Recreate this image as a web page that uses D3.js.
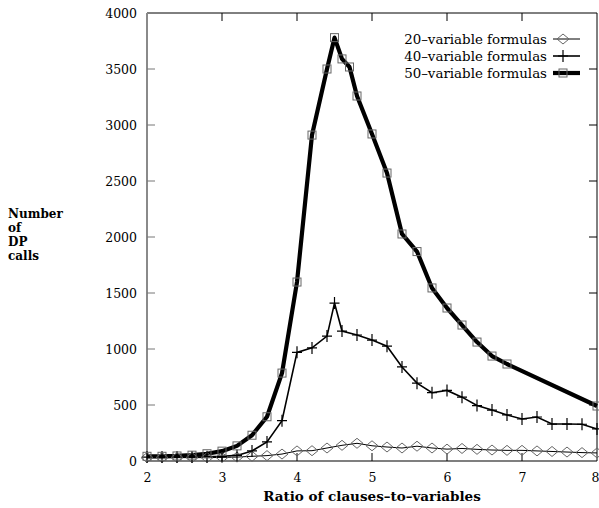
<!DOCTYPE html>
<html><head><meta charset="utf-8">
<script src="https://cdn.jsdelivr.net/npm/d3@7"></script>
<style>body{margin:0;background:#fff;} svg{display:block;}</style>
</head><body>
<svg id="chart" width="599" height="508"></svg>
<script>
// ---- data ----
const xTicks = [2,3,4,5,6,7,8];
const yTicks = [0,500,1000,1500,2000,2500,3000,3500,4000];
const seriesNames = ["20\u2013variable formulas","40\u2013variable formulas","50\u2013variable formulas"];

const x20 = [2.0,2.2,2.4,2.6,2.8,3.0,3.2,3.4,3.6,3.8,4.0,4.2,4.4,4.6,4.8,5.0,5.2,5.4,5.6,5.8,6.0,6.2,6.4,6.6,6.8,7.0,7.2,7.4,7.6,7.8,8.0];
const y20 = [30,30,30,30,30,32,35,42,48,62,90,92,116,140,158,136,125,116,132,116,106,112,104,98,95,95,90,85,80,75,72];

const x40 = [2.0,2.2,2.4,2.6,2.8,3.0,3.2,3.4,3.6,3.8,4.0,4.2,4.4,4.5,4.6,4.8,5.0,5.2,5.4,5.6,5.8,6.0,6.2,6.4,6.6,6.8,7.0,7.2,7.4,7.6,7.8,8.0];
const y40 = [35,35,35,36,38,42,50,90,170,360,970,1010,1115,1410,1160,1125,1080,1025,840,695,610,630,570,495,455,411,375,393,330,330,328,286];

const x50 = [2.0,2.2,2.4,2.6,2.8,3.0,3.2,3.4,3.6,3.8,4.0,4.2,4.4,4.5,4.6,4.7,4.8,5.0,5.2,5.4,5.6,5.8,6.0,6.2,6.4,6.6,6.8,8.0];
const y50 = [42,42,45,52,65,88,135,230,395,785,1598,2910,3500,3780,3590,3518,3259,2920,2571,2027,1870,1545,1366,1214,1062,937,866,491];

// ---- layout ----
const svg = d3.select("#chart");
const L = 147, R = 597, T = 13, B = 461;
const x = d3.scaleLinear().domain([2,8]).range([L,R]);
const y = d3.scaleLinear().domain([0,4000]).range([B,T]);
const font = "'DejaVu Serif', serif";

// frame
svg.append("line").attr("x1",L).attr("x2",R).attr("y1",T).attr("y2",T).attr("stroke","#000").attr("stroke-width",1);
svg.append("line").attr("x1",L).attr("x2",R).attr("y1",B).attr("y2",B).attr("stroke","#000").attr("stroke-width",1.2);
svg.append("line").attr("x1",R).attr("x2",R).attr("y1",T).attr("y2",B).attr("stroke","#000").attr("stroke-width",1);
svg.append("line").attr("x1",L).attr("x2",L).attr("y1",T).attr("y2",B).attr("stroke","#8a8a8a").attr("stroke-width",2);

// y ticks
const yAxis = d3.axisLeft(y).tickValues(yTicks).tickSize(0).tickPadding(10).tickFormat(d3.format("d"));
const gy = svg.append("g").attr("transform",`translate(${L},0)`).call(yAxis);
gy.select(".domain").remove();
gy.selectAll("text").attr("font-family",font).attr("font-size","12.5px").attr("fill","#000");
yTicks.forEach(v=>{
  if (v===0 || v===4000) return;
  svg.append("line").attr("x1",L).attr("x2",L+8).attr("y1",y(v)).attr("y2",y(v)).attr("stroke","#777").attr("stroke-width",1);
  svg.append("line").attr("x1",R-8).attr("x2",R).attr("y1",y(v)).attr("y2",y(v)).attr("stroke","#000").attr("stroke-width",1);
});

// x ticks
const xAxis = d3.axisBottom(x).tickValues(xTicks).tickSize(0).tickPadding(12).tickFormat(d3.format("d"));
const gx = svg.append("g").attr("transform",`translate(0,${B})`).call(xAxis);
gx.select(".domain").remove();
gx.selectAll("text").attr("font-family",font).attr("font-size","12.5px").attr("fill","#000");
gx.selectAll(".tick").filter(d=>d===8).select("text").attr("dx","-2");
xTicks.forEach(v=>{
  if (v===2 || v===8) return;
  svg.append("line").attr("x1",x(v)).attr("x2",x(v)).attr("y1",B).attr("y2",B-8).attr("stroke","#000").attr("stroke-width",1);
  svg.append("line").attr("x1",x(v)).attr("x2",x(v)).attr("y1",T).attr("y2",T+8).attr("stroke","#000").attr("stroke-width",1);
});

// axis titles
svg.append("text").attr("x",(L+R)/2).attr("y",501).attr("text-anchor","middle")
  .attr("font-family",font).attr("font-weight","bold").attr("font-size","13.5px").text("Ratio of clauses\u2013to\u2013variables");
["Number","of","DP","calls"].forEach((t,i)=>{
  svg.append("text").attr("x",8).attr("y",218+i*14).attr("font-family",font).attr("font-weight","bold")
    .attr("font-size","12px").text(t);
});

// series
const line = d3.line().x(d=>x(d[0])).y(d=>y(d[1]));
const d20 = x20.map((v,i)=>[v,y20[i]]);
const d40 = x40.map((v,i)=>[v,y40[i]]);
const d50 = x50.map((v,i)=>[v,y50[i]]);

const g = svg.append("g");
g.append("path").datum(d20).attr("d",line).attr("fill","none").attr("stroke","#000").attr("stroke-width",1);
g.append("path").datum(d40).attr("d",line).attr("fill","none").attr("stroke","#000").attr("stroke-width",1.6);
g.append("path").datum(d50).attr("d",line).attr("fill","none").attr("stroke","#000").attr("stroke-width",4.2).attr("stroke-linejoin","round");

function diamond(sel,cx,cy){ sel.append("path").attr("d",`M${cx-6},${cy}L${cx},${cy-5}L${cx+6},${cy}L${cx},${cy+5}Z`).attr("fill","none").attr("stroke","#666").attr("stroke-width",1); }
function plus(sel,cx,cy){ sel.append("path").attr("d",`M${cx-5},${cy}H${cx+5}M${cx},${cy-6}V${cy+6}`).attr("stroke","#000").attr("stroke-width",1.2).attr("fill","none"); }
function square(sel,cx,cy){ sel.append("rect").attr("x",cx-4).attr("y",cy-4).attr("width",8).attr("height",8).attr("fill","none").attr("stroke","#666").attr("stroke-width",1); }

d20.forEach(d=>diamond(g,x(d[0]),y(d[1])));
d40.forEach(d=>plus(g,x(d[0]),y(d[1])));
d50.forEach(d=>square(g,x(d[0]),y(d[1])));

// legend
const legY = [39,56,73];
const lx1 = 553, lx2 = 580, lm = 563;
seriesNames.forEach((name,i)=>{
  svg.append("text").attr("x",547).attr("y",legY[i]+4.5).attr("text-anchor","end")
    .attr("font-family",font).attr("font-size","13.4px").text(name);
});
svg.append("line").attr("x1",lx1).attr("x2",lx2).attr("y1",legY[0]).attr("y2",legY[0]).attr("stroke","#000").attr("stroke-width",1);
diamond(svg,lm,legY[0]);
svg.append("line").attr("x1",lx1).attr("x2",lx2).attr("y1",legY[1]).attr("y2",legY[1]).attr("stroke","#000").attr("stroke-width",1.6);
plus(svg,lm,legY[1]);
svg.append("line").attr("x1",lx1).attr("x2",lx2).attr("y1",legY[2]).attr("y2",legY[2]).attr("stroke","#000").attr("stroke-width",4.2);
square(svg,lm,legY[2]);
</script>
</body></html>
